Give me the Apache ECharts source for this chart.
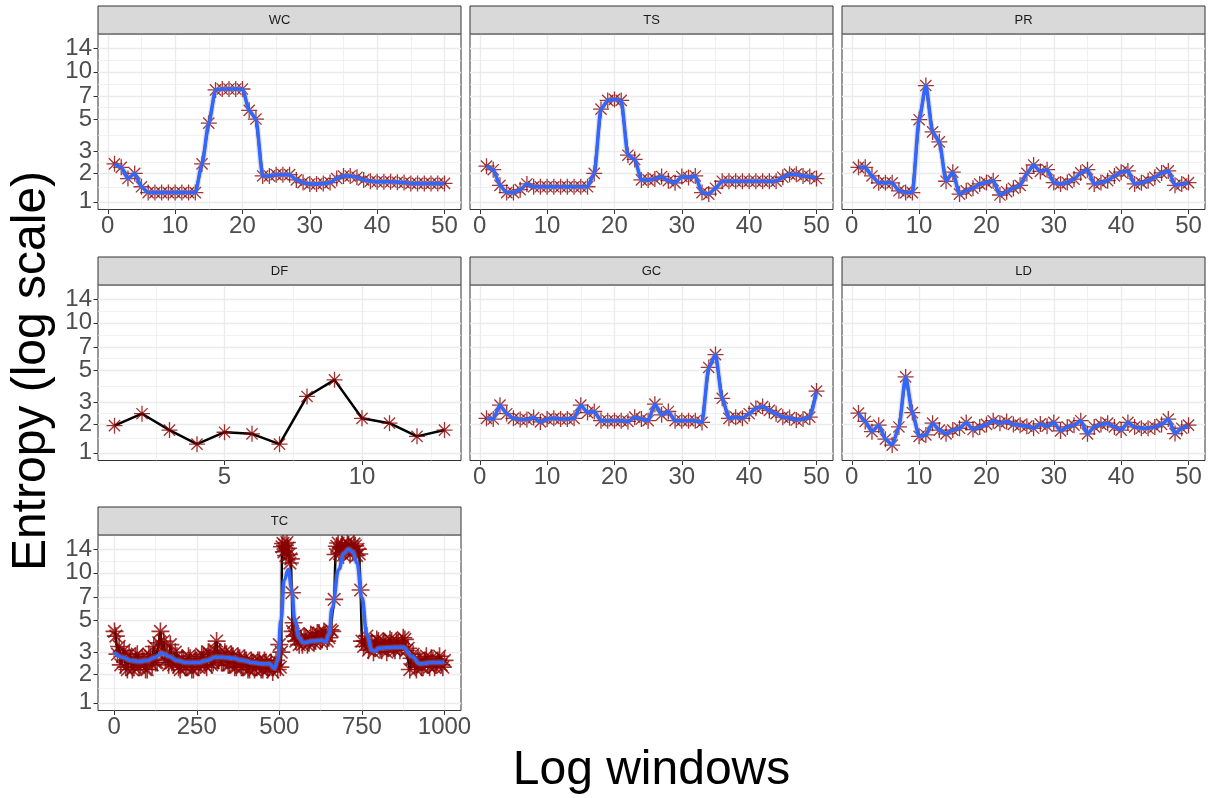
<!DOCTYPE html>
<html>
<head>
<meta charset="utf-8">
<script src="https://cdn.jsdelivr.net/npm/echarts@6/dist/echarts.min.js"></script>
<style>
html, body { margin: 0; padding: 0; background: #fff; }
#chart { width: 1215px; height: 798px; }
</style>
</head>
<body>
<div id="chart"></div>
<script>
// entropy per log window, one array per facet
var windows50 = [1,2,3,4,5,6,7,8,9,10,11,12,13,14,15,16,17,18,19,20,21,22,23,24,25,
                 26,27,28,29,30,31,32,33,34,35,36,37,38,39,40,41,42,43,44,45,46,47,48,49,50];
var wcEntropy = [2.4,2.25,1.8,2.0,1.5,1.3,1.3,1.3,1.3,1.3,1.3,1.3,1.3,2.4,4.7,7.7,7.8,7.8,7.8,7.8,
                 5.7,5.0,1.9,1.9,1.95,1.95,1.95,1.75,1.65,1.6,1.6,1.62,1.65,1.8,1.9,1.9,1.85,1.75,1.7,1.68,
                 1.68,1.68,1.66,1.65,1.62,1.62,1.62,1.62,1.62,1.62];
var tsEntropy = [2.3,2.15,1.55,1.3,1.3,1.4,1.6,1.5,1.5,1.5,1.5,1.5,1.5,1.5,1.5,1.5,2.0,5.8,6.6,6.7,
                 6.6,2.8,2.6,1.75,1.75,1.78,1.88,1.72,1.64,1.88,1.84,1.9,1.3,1.25,1.45,1.7,1.7,1.7,1.7,1.7,
                 1.7,1.7,1.7,1.7,1.85,1.97,1.97,1.9,1.88,1.8];
var prEntropy = [2.25,2.25,1.9,1.64,1.64,1.64,1.36,1.3,1.3,4.95,8.2,4.1,3.5,1.7,2.05,1.25,1.36,1.45,1.6,1.65,
                 1.72,1.22,1.33,1.45,1.55,2.0,2.35,2.08,2.15,1.65,1.6,1.65,1.78,2.02,2.15,1.6,1.65,1.72,1.9,2.05,
                 2.1,1.6,1.64,1.72,1.85,2.02,2.1,1.55,1.6,1.65];
var dfWindows = [1,2,3,4,5,6,7,8,9,10,11,12,13];
var dfEntropy = [1.95,2.45,1.78,1.28,1.7,1.64,1.28,3.3,4.3,2.25,2.05,1.55,1.78];
var gcEntropy = [2.25,2.22,2.85,2.45,2.25,2.2,2.2,2.28,2.1,2.22,2.25,2.22,2.22,2.25,2.85,2.5,2.55,2.15,2.15,2.15,
                 2.15,2.12,2.3,2.22,2.15,2.9,2.4,2.55,2.15,2.15,2.15,2.15,2.08,5.2,6.3,3.2,2.25,2.3,2.25,2.45,
                 2.7,2.78,2.6,2.45,2.3,2.28,2.18,2.22,2.3,3.6];
var ldEntropy = [2.48,2.12,1.72,1.97,1.45,1.25,1.9,4.5,2.5,1.55,1.6,2.05,1.78,1.64,1.78,1.85,2.08,1.8,1.9,2.0,
                 2.15,2.05,2.12,2.0,1.97,1.93,1.85,2.02,1.93,2.08,1.75,1.9,1.97,2.15,1.64,1.9,2.0,2.05,1.9,1.78,
                 2.08,1.9,1.85,1.85,1.9,2.0,2.22,1.65,1.85,1.97];
var tcWindows = [1,5,10,15,20,25,30,35,40,45,
                 50,55,60,65,70,75,80,85,90,95,
                 100,105,110,115,120,125,130,135,140,145,
                 150,155,160,165,170,175,180,185,190,195,
                 200,205,210,215,220,225,230,235,240,245,
                 250,255,260,265,270,275,280,285,290,295,
                 300,305,310,315,320,325,330,335,340,345,
                 350,355,360,365,370,375,380,385,390,395,
                 400,405,410,415,420,425,430,435,440,445,
                 450,455,460,465,470,475,480,485,490,495,
                 500,503,506,508,511,514,517,520,523,526,
                 529,532,535,538,540,543,546,550,555,560,
                 565,570,575,580,585,590,595,600,605,610,
                 615,620,625,630,635,640,645,650,655,660,
                 666,670,674,678,682,686,690,694,698,702,
                 706,710,714,718,722,726,730,734,738,742,
                 746,750,755,760,765,770,775,780,785,790,
                 795,800,805,810,815,820,825,830,835,840,
                 845,850,855,860,865,870,875,880,885,890,
                 895,900,905,910,915,920,925,930,935,940,
                 945,950,955,960,965,970,975,980,985,990,
                 995,1000];
var tcEntropy = [4.2,3.9,2.9,3.3,2.4,2.8,3.1,2.3,2.2,2.9,
                 2.7,2.2,2.3,2.8,2.9,2.3,2.4,2.7,2.6,2.2,
                 2.2,2.9,2.8,2.4,3.3,2.5,2.5,3.5,4.2,3.1,
                 3.6,2.6,2.9,2.4,3.4,2.5,2.4,3.0,2.8,2.3,
                 2.2,2.7,2.6,2.3,2.3,2.8,2.7,2.2,2.2,2.7,
                 2.6,2.3,2.4,2.9,2.8,2.4,2.3,3.0,2.9,2.4,
                 2.5,3.1,3.6,2.6,3.0,2.5,2.5,3.0,2.9,2.4,
                 2.4,2.9,2.8,2.3,2.3,2.8,2.7,2.3,2.3,2.7,
                 2.6,2.2,2.2,2.6,2.5,2.2,2.3,2.6,2.6,2.2,
                 2.2,2.6,2.5,2.2,2.3,2.5,2.1,2.4,2.6,2.2,
                 3.4,2.3,3.0,14.5,15.2,13.5,14.8,12.8,15.4,14.2,
                 13.0,11.5,12.2,7.5,4.2,4.8,3.9,3.6,4.0,3.4,
                 3.7,3.4,3.9,3.8,3.4,3.5,4.0,3.9,3.5,3.6,
                 4.1,4.1,3.6,3.7,4.2,4.0,3.6,3.8,4.3,4.2,
                 6.8,13.0,14.6,15.3,13.2,14.4,15.0,12.9,14.1,13.8,
                 15.4,14.9,13.0,14.5,13.4,15.1,14.7,12.8,14.0,13.1,
                 7.8,3.6,3.3,3.6,3.9,3.1,3.4,3.5,3.0,3.2,
                 3.7,3.6,3.2,3.1,3.6,3.5,3.0,3.2,3.7,3.6,
                 3.2,3.1,3.6,3.5,3.1,3.3,3.8,3.7,3.1,3.2,
                 2.2,2.7,2.9,2.4,2.2,2.7,2.6,2.3,2.3,2.6,
                 2.8,2.4,2.3,2.7,2.6,2.3,2.4,2.6,2.8,2.4,
                 2.3,2.6];
// loess fit for TC
var tcFitWindows = [0,25,50,75,100,125,145,165,190,220,255,280,305,330,360,390,420,450,470,485,
                    495,505,515,527,537,547,560,573,600,628,640,650,660,680,695,710,722,735,750,765,
                    780,790,800,850,875,900,926,960,1000];
var tcFitEntropy = [3.0,2.75,2.6,2.55,2.6,2.75,2.95,2.8,2.6,2.5,2.5,2.6,2.75,2.75,2.7,2.6,2.5,2.45,2.45,2.25,
                    2.6,5.0,9.0,10.5,8.0,5.0,3.8,3.5,3.6,3.65,3.55,4.0,6.0,10.5,13.2,14.0,13.5,11.5,7.0,4.0,
                    3.1,3.05,3.2,3.25,3.25,2.8,2.45,2.5,2.5];

var yBreaks = [1, 2, 3, 5, 7, 10, 14];
var breaks50 = [0, 10, 20, 30, 40, 50];
var minor50 = [5, 15, 25, 35, 45];
var dfBreaks = [5, 10];
var dfMinor = [2.5, 7.5, 12.5];
var tcBreaks = [0, 250, 500, 750, 1000];
var tcMinor = [125, 375, 625, 875];

// pseudo-log scale, same as scales::pseudo_log_trans(sigma = 1)
function tr(v) { return Math.asinh(v / 2); }
function untr(t) { return 2 * Math.sinh(t); }

var yMajor = yBreaks.map(tr);
var yMinor = [];
for (var k = 0; k < yMajor.length - 1; k++) yMinor.push((yMajor[k] + yMajor[k + 1]) / 2);
yMinor.push(yMajor[yMajor.length - 1] + (yMajor[1] - yMajor[0]) / 2);
// labels 10 and 14 sit too close for one axis, echarts drops one -> split them over two axes
var yLabA = yBreaks.filter(function (b, k) { return k % 2 === 0; }).map(tr);
var yLabB = yBreaks.filter(function (b, k) { return k % 2 === 1; }).map(tr);

var panels = [
  {name: 'WC', col: 0, row: 0, x: windows50, y: wcEntropy, fx: windows50, fy: wcEntropy, xMin: -1.45, xMax: 52.45, br: breaks50, mi: minor50},
  {name: 'TS', col: 1, row: 0, x: windows50, y: tsEntropy, fx: windows50, fy: tsEntropy, xMin: -1.45, xMax: 52.45, br: breaks50, mi: minor50},
  {name: 'PR', col: 2, row: 0, x: windows50, y: prEntropy, fx: windows50, fy: prEntropy, xMin: -1.45, xMax: 52.45, br: breaks50, mi: minor50},
  {name: 'DF', col: 0, row: 1, x: dfWindows, y: dfEntropy, fx: null, fy: null, xMin: 0.4, xMax: 13.6, br: dfBreaks, mi: dfMinor},
  {name: 'GC', col: 1, row: 1, x: windows50, y: gcEntropy, fx: windows50, fy: gcEntropy, xMin: -1.45, xMax: 52.45, br: breaks50, mi: minor50},
  {name: 'LD', col: 2, row: 1, x: windows50, y: ldEntropy, fx: windows50, fy: ldEntropy, xMin: -1.45, xMax: 52.45, br: breaks50, mi: minor50},
  {name: 'TC', col: 0, row: 2, x: tcWindows, y: tcEntropy, fx: tcFitWindows, fy: tcFitEntropy, xMin: -48.95, xMax: 1049.95, br: tcBreaks, mi: tcMinor}
];

var colLeft = [98, 470, 842];
var rowTop = [34, 285, 535];
var panelW = 363, panelH = 175.5, stripH = 28;
var yMin = 0.373, yMax = 2.845;
var FONT = 'Liberation Sans';
var star = 'path://M10,0L10,20M0,10L20,10M3,3L17,17M3,17L17,3';

function pairs(xs, ys) {
  return xs.map(function (x, k) { return [x, tr(ys[k])]; });
}

function labelAxis(i, values) {
  return {type: 'value', gridIndex: i, min: yMin, max: yMax, position: 'left', offset: 0,
    axisLine: {show: false},
    axisTick: {show: true, length: 4.5, customValues: values, lineStyle: {color: '#333333'}},
    axisLabel: {customValues: values, fontSize: 24, color: '#4D4D4D', margin: 6, fontFamily: FONT,
      showMinLabel: true, showMaxLabel: true, hideOverlap: false,
      formatter: function (v) { return String(Math.round(untr(v))); }},
    splitLine: {show: false}};
}

var option = {animation: false, grid: [], xAxis: [], yAxis: [], series: [], graphic: []};

panels.forEach(function (p, i) {
  var left = colLeft[p.col], top = rowTop[p.row];
  var dense = p.name === 'TC';
  option.grid.push({left: left, top: top, width: panelW, height: panelH, show: true,
    backgroundColor: '#fff', borderColor: '#333333', borderWidth: 1, outerBoundsMode: 'none'});

  option.xAxis.push({type: 'value', gridIndex: i, min: p.xMin, max: p.xMax, position: 'bottom',
    axisLine: {show: false},
    axisTick: {show: true, length: 4.5, customValues: p.br, lineStyle: {color: '#333333'}},
    axisLabel: {customValues: p.br, fontSize: 24, color: '#4D4D4D', margin: 5, fontFamily: FONT,
      showMinLabel: true, showMaxLabel: true, hideOverlap: false,
      formatter: function (v) { return String(v); }},
    splitLine: {show: true, lineStyle: {color: '#EBEBEB', width: 1.3}}});
  option.xAxis.push({type: 'value', gridIndex: i, min: p.xMin, max: p.xMax, position: 'bottom',
    axisLine: {show: false},
    axisTick: {show: false, customValues: p.mi},
    axisLabel: {show: false, customValues: p.mi},
    splitLine: {show: true, lineStyle: {color: '#EBEBEB', width: 0.7}}});

  var yIdx = option.yAxis.length;
  // major gridlines
  option.yAxis.push({type: 'value', gridIndex: i, min: yMin, max: yMax, position: 'left',
    axisLine: {show: false},
    axisTick: {show: false, customValues: yMajor},
    axisLabel: {show: false, customValues: yMajor},
    splitLine: {show: true, lineStyle: {color: '#EBEBEB', width: 1.3}}});
  // minor gridlines
  option.yAxis.push({type: 'value', gridIndex: i, min: yMin, max: yMax, position: 'left',
    axisLine: {show: false},
    axisTick: {show: false, customValues: yMinor},
    axisLabel: {show: false, customValues: yMinor},
    splitLine: {show: true, lineStyle: {color: '#EBEBEB', width: 0.7}}});
  if (p.col === 0) {
    option.yAxis.push(labelAxis(i, yLabA));
    option.yAxis.push(labelAxis(i, yLabB));
  }

  var pts = pairs(p.x, p.y);
  option.series.push({type: 'line', xAxisIndex: 2 * i, yAxisIndex: yIdx, data: pts, showSymbol: false,
    silent: true, z: 2, lineStyle: {color: '#000000', width: 2.5}});
  option.series.push({type: 'scatter', xAxisIndex: 2 * i, yAxisIndex: yIdx, data: pts, silent: true, z: 3,
    symbol: star, symbolSize: dense ? 18 : 16, symbolKeepAspect: true,
    itemStyle: {color: 'rgba(0,0,0,0)', borderColor: '#8B0000', borderWidth: dense ? 1.6 : 1.3}});
  if (p.fx) {
    var fit = pairs(p.fx, p.fy);
    var sm = dense ? 0.45 : 0.25;
    option.series.push({type: 'line', xAxisIndex: 2 * i, yAxisIndex: yIdx, data: fit, showSymbol: false,
      silent: true, z: 4, smooth: sm, smoothMonotone: 'x', lineStyle: {color: 'rgba(153,153,153,0.3)', width: 6}});
    option.series.push({type: 'line', xAxisIndex: 2 * i, yAxisIndex: yIdx, data: fit, showSymbol: false,
      silent: true, z: 5, smooth: sm, smoothMonotone: 'x', lineStyle: {color: '#3366FF', width: 3.5}});
  }

  // facet strip
  option.graphic.push({type: 'rect', z: 10, shape: {x: left, y: top - stripH, width: panelW, height: stripH},
    style: {fill: '#D9D9D9', stroke: '#333333', lineWidth: 1}});
  option.graphic.push({type: 'text', z: 11, x: left + panelW / 2, y: top - stripH / 2,
    style: {text: p.name, fill: '#1A1A1A', fontSize: 13, fontFamily: FONT, align: 'center', verticalAlign: 'middle'}});
});

option.graphic.push({type: 'text', x: 651.5, y: 771,
  style: {text: 'Log windows', fill: '#000000', fontSize: 48, fontFamily: FONT, align: 'center', verticalAlign: 'middle'}});
option.graphic.push({type: 'text', x: 32, y: 371, rotation: Math.PI / 2,
  style: {text: 'Entropy (log scale)', fill: '#000000', fontSize: 48, fontFamily: FONT, align: 'center', verticalAlign: 'middle'}});

echarts.init(document.getElementById('chart')).setOption(option);
</script>
</body>
</html>
